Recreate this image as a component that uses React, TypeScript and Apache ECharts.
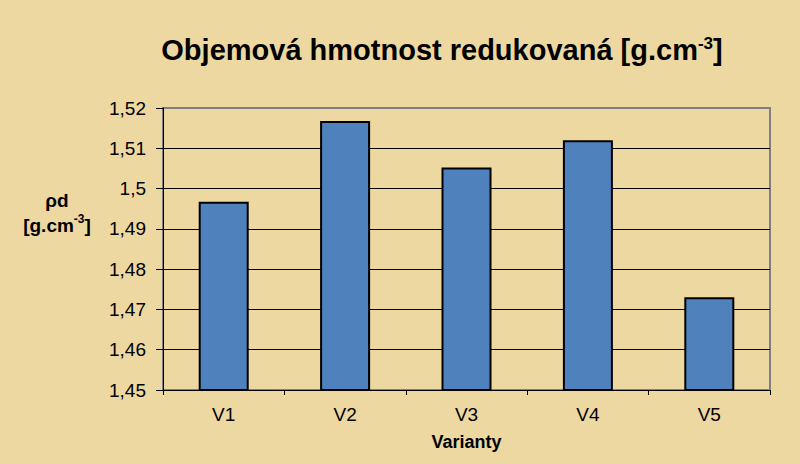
import React, { useEffect, useRef } from "react";
import * as echarts from "echarts";

const categories = ["V1", "V2", "V3", "V4", "V5"];
const values = [1.4967, 1.5168, 1.5052, 1.512, 1.473];
const yMin = 1.45;
const yMax = 1.52;
const yStep = 0.01;

export default function App() {
  const ref = useRef<HTMLDivElement>(null);
  useEffect(() => {
    document.body.style.margin = "0";
    const chart = echarts.init(ref.current!, null, { renderer: "svg" });
    const font = "Liberation Sans, Arial, sans-serif";
    chart.setOption({
      animation: false,
      backgroundColor: "#EDD8A2",
      textStyle: { fontFamily: font },
      title: {
        text: "Objemová hmotnost redukovaná [g.cm{sup|-3}]",
        left: 437,
        top: 30,
        textAlign: "center",
        textStyle: {
          fontFamily: font,
          fontWeight: "bold",
          fontSize: 29,
          color: "#000",
          rich: {
            sup: { fontFamily: font, fontWeight: "bold", fontSize: 17, verticalAlign: "top", padding: [0, 0, 13, 0], color: "#000" },
          },
        },
      },
      graphic: [
        {
          type: "text",
          x: 57,
          y: 188,
          style: {
            text: "ρd\n[g.cm{sup|-3}]",
            fontFamily: font,
            fontWeight: "bold",
            fontSize: 19,
            lineHeight: 25,
            align: "center",
            fill: "#000",
            rich: {
              sup: { fontFamily: font, fontWeight: "bold", fontSize: 12, verticalAlign: "top", padding: [0, 0, 9, 0], fill: "#000" },
            },
          },
        },
      ],
      grid: {
        left: 163,
        right: 30,
        top: 108,
        bottom: 74,
        show: true,
        borderColor: "#808080",
        borderWidth: 2,
        backgroundColor: "transparent",
      },
      xAxis: {
        type: "category",
        data: categories,
        name: "Varianty",
        nameLocation: "middle",
        nameGap: 43,
        nameTextStyle: { fontFamily: font, fontWeight: "bold", fontSize: 18, color: "#000" },
        axisLine: { lineStyle: { color: "#000", width: 1 } },
        axisTick: { show: true, length: 5, lineStyle: { color: "#000" } },
        axisLabel: { fontFamily: font, fontSize: 19, color: "#000", margin: 15 },
      },
      yAxis: {
        type: "value",
        min: yMin,
        max: yMax,
        interval: yStep,
        axisLine: { show: true, lineStyle: { color: "#000", width: 1 } },
        axisTick: { show: true, length: 7, lineStyle: { color: "#000" } },
        axisLabel: {
          fontFamily: font,
          fontSize: 19,
          color: "#000",
          margin: 17,
          formatter: (v: number) => String(Number(v.toFixed(2))).replace(".", ","),
        },
        splitLine: { show: true, showMaxLine: false, lineStyle: { color: "#000", width: 1 } },
      },
      series: [
        {
          type: "bar",
          data: values,
          barWidth: 50,
          itemStyle: { color: "#4F81BD", borderColor: "#000", borderWidth: 2 },
        },
      ],
    });
    return () => chart.dispose();
  }, []);
  return <div ref={ref} style={{ width: 800, height: 464 }} />;
}
